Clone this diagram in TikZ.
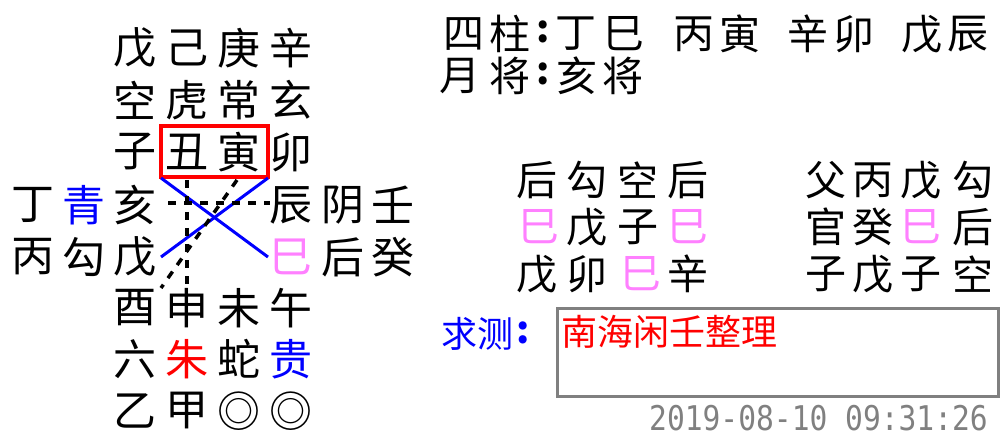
\documentclass[tikz,border=0pt]{standalone}
\usepackage{fontspec}
\newfontfamily\cjk{Noto Sans CJK SC}
\newfontfamily\monof{DejaVu Sans Mono}
\definecolor{sipink}{RGB}{255,128,255}
\definecolor{siblue}{RGB}{0,0,255}
\definecolor{sired}{RGB}{255,0,0}
\definecolor{sigray}{RGB}{128,128,128}
\begin{document}
\begin{tikzpicture}[x=1pt,y=-1pt,
  gch/.style={font=\cjk\fontsize{43}{43}\selectfont, inner sep=0pt},
  tch/.style={font=\cjk\fontsize{41}{41}\selectfont, inner sep=0pt},
  bch/.style={font=\cjk\fontsize{36}{36}\selectfont, inner sep=0pt},
  colch/.style={font=\cjk\bfseries\fontsize{38}{38}\selectfont, inner sep=0pt},
  redbox/.style={draw=sired, line width=4pt},
  xline/.style={draw=siblue, line width=3pt},
  dline/.style={draw=black, line width=3.5pt, dash pattern=on 8pt off 8pt},
  graybox/.style={draw=sigray, line width=3pt}]
\useasboundingbox[fill=white] (0,0) rectangle (1005,441);
% left grid
\foreach \c/\x/\y/\col [count=\i] in {
  戊/135/48/black, 己/187/48/black, 庚/239/48/black, 辛/291/48/black,
  空/135/100/black, 虎/187/100/black, 常/239/100/black, 玄/291/100/black,
  子/135/152/black, 丑/187/152/black, 寅/239/152/black, 卯/291/152/black,
  丁/33/205/black, 青/84/205/siblue, 亥/135/205/black, 辰/291/205/black, 阴/343/205/black, 壬/393/205/black,
  丙/33/257/black, 勾/84/257/black, 戊/135/257/black, 巳/291/257/sipink, 后/343/257/black, 癸/393/257/black,
  酉/135/308/black, 申/187/308/black, 未/239/308/black, 午/291/308/black,
  六/135/359/black, 朱/187/359/sired, 蛇/239/359/black, 贵/291/359/siblue,
  乙/135/411/black, 甲/187/411/black, ◎/239/411/black, ◎/291/411/black}
  \node[gch, text=\col] (g\i) at (\x,\y) {\c};
% red box and lines
\coordinate (rtl) at (161,126);
\coordinate (rbr) at (268,177);
\draw[redbox] (rtl) rectangle (rbr);
\coordinate (xa) at (161,178);
\coordinate (xb) at (268,257);
\coordinate (xc) at (268,178);
\coordinate (xd) at (161,257);
\draw[xline] (xa) -- (xb);
\draw[xline] (xc) -- (xd);
\coordinate (h1) at (168,203);
\coordinate (h2) at (270,203);
\coordinate (v1) at (187,180);
\coordinate (v2) at (187,290);
\coordinate (d1) at (237,180);
\coordinate (d2) at (161,288);
\draw[dline] (h1) -- (h2);
\draw[dline] (v1) -- (v2);
\draw[dline] (d1) -- (d2);
% top text
\foreach \c/\x/\y [count=\i] in {
  四/464/34, 柱/510/34, 丁/576/34, 巳/624/34, 丙/694/34, 寅/740/34, 辛/808/34, 卯/854/34, 戊/922/34, 辰/968/34,
  月/460/76, 将/510/76, 亥/577/76, 将/623/76}
  \node[tch] (t\i) at (\x,\y) {\c};
\node[colch] (tc1) at (543,32) {:};
\node[colch] (tc2) at (543,74) {:};
% middle blocks
\foreach \c/\x/\y/\col [count=\i] in {
  后/537/180/black, 勾/587/180/black, 空/638/180/black, 后/688/180/black,
  巳/539/227/sipink, 戊/587/227/black, 子/638/227/black, 巳/688/227/sipink,
  戊/537/274/black, 卯/587/274/black, 巳/641/274/sipink, 辛/688/274/black,
  父/826/180/black, 丙/873/180/black, 戊/921/180/black, 勾/973/180/black,
  官/826/227/black, 癸/873/227/black, 巳/921/227/sipink, 后/973/227/black,
  子/826/274/black, 戊/873/274/black, 子/921/274/black, 空/973/274/black}
  \node[tch, text=\col] (m\i) at (\x,\y) {\c};
% bottom
\node[bch, text=siblue, anchor=west] (q) at (441,334) {求测};
\node[colch, text=siblue] (qc) at (523,333) {:};
\coordinate (b1) at (557,308);
\coordinate (b2) at (998,396);
\draw[graybox] (b1) rectangle (b2);
\node[bch, text=sired, anchor=west] (nh) at (561,332) {南海闲壬整理};
\node[text=sigray, inner sep=0pt, anchor=east, font=\monof\fontsize{29.6}{30}\selectfont] (ts) at (988,418) {\scalebox{1}[1.15]{2019-08-10 09:31:26}};
\end{tikzpicture}
\end{document}
